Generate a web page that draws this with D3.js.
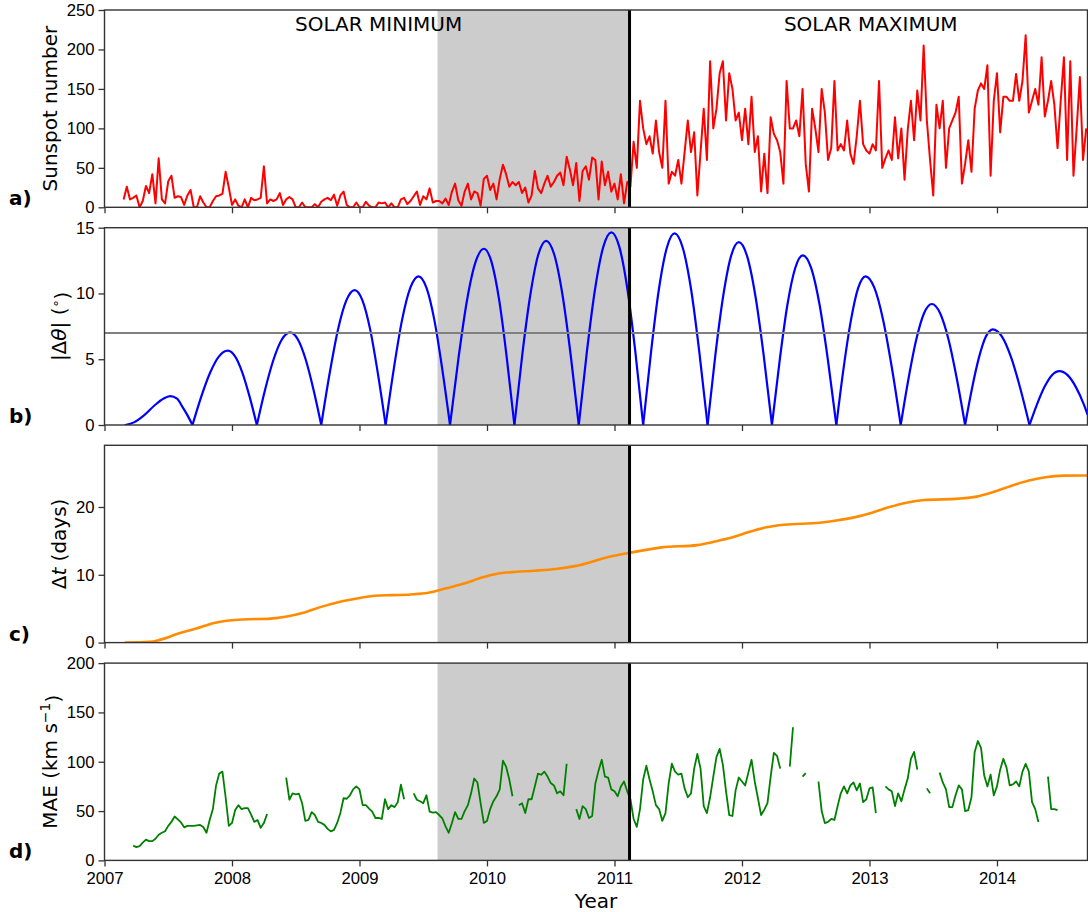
<!DOCTYPE html>
<html>
<head>
<meta charset="utf-8">
<title>Sunspots, latitude offset, lag and MAE</title>
<script src="https://cdn.jsdelivr.net/npm/d3@7"></script>
<style>
  body { margin: 0; background: #fff; }
  svg { font-family: "DejaVu Sans", sans-serif; }
  .axis text { font-size: 16.7px; fill: #000; }
  .axis line { stroke: #333; stroke-width: 1.3; }
</style>
</head>
<body>
<div id="chart"></div>
<script>
// ---- data ----
const yearTicks = [2007, 2008, 2009, 2010, 2011, 2012, 2013, 2014];
const ssnTicks = [0, 50, 100, 150, 200, 250];
const thetaTicks = [0, 5, 10, 15];
const dtTicks = [0, 10, 20];
const maeTicks = [0, 50, 100, 150, 200];

// shaded interval and the split between minimum and maximum
const shadeYears = [2009.612, 2011.118];
const splitYear = 2011.118;
const thetaRef = 7;

// sunspot number, one value every 0.025 yr starting 2007.15
const ssnStart = 2007.15, ssnStep = 0.025;
const ssnValues = [
  10,26,10,12,15,0,8,27,18,42, 5,62,10,5,33,40,12,14,13,3,
  15,22,0,0,14,6,0,0,8,14, 15,17,45,25,3,10,2,0,10,0,
  12,9,10,12,52,5,10,8,10,18, 3,10,13,10,0,0,6,0,0,0,
  4,0,7,10,12,9,16,2,15,20, 3,0,0,6,0,0,7,2,0,0,
  6,5,6,0,5,0,0,10,12,4, 8,14,20,3,14,10,24,6,8,8,
  5,11,3,20,30,9,2,20,30,10, 20,18,2,36,40,22,30,10,36,54,
  42,26,32,28,32,18,25,6,15,46, 24,18,30,40,26,32,40,44,28,64,
  48,28,56,8,46,52,35,63,60,10, 58,28,45,20,30,10,42,5,32,26,
  83,50,135,100,80,90,68,110,70,50, 135,30,45,40,60,30,70,110,70,95,
  15,70,125,60,185,100,125,170,185,110, 170,150,110,120,85,125,80,140,70,90,
  20,68,18,114,93,85,70,30,160,100, 100,110,90,150,55,20,125,100,70,150,
  120,60,75,160,72,80,72,110,68,55, 90,135,80,72,68,80,72,160,50,62,
  72,60,114,62,100,35,98,135,85,148, 110,205,110,60,15,130,100,135,50,100,
  110,120,140,30,55,85,45,125,148,157, 150,180,40,135,170,95,140,140,135,135,
  169,135,160,218,120,135,150,130,190,115, 135,160,130,75,135,190,60,185,40,100,
  165,60,100
];

// |delta theta| in degrees: [year, value]
const thetaPoints = [
  [2007.164,0],[2007.231,0.2],[2007.312,0.75],[2007.394,1.5],[2007.461,2.0],[2007.515,2.2],[2007.569,2.0],[2007.61,1.4],[2007.65,0.75],[2007.69,0],
  [2007.759,2.16],[2007.829,3.99],[2007.898,5.22],[2007.967,5.65],[2008.024,5.22],[2008.081,3.99],[2008.138,2.16],[2008.195,0],
  [2008.26,2.7],[2008.326,4.98],[2008.391,6.5],[2008.456,7.04],[2008.517,6.5],[2008.578,4.98],[2008.639,2.7],[2008.70,0],
  [2008.766,3.93],[2008.831,7.25],[2008.897,9.48],[2008.962,10.26],[2009.023,9.48],[2009.084,7.25],[2009.144,3.93],[2009.205,0],
  [2009.27,4.33],[2009.334,7.99],[2009.399,10.44],[2009.463,11.3],[2009.525,10.44],[2009.587,7.99],[2009.648,4.33],[2009.71,0],
  [2009.777,5.13],[2009.843,9.47],[2009.91,12.38],[2009.976,13.4],[2010.036,12.38],[2010.096,9.47],[2010.155,5.13],[2010.215,0],
  [2010.277,5.36],[2010.34,9.9],[2010.402,12.94],[2010.464,14.0],[2010.528,12.94],[2010.592,9.9],[2010.656,5.36],[2010.72,0],
  [2010.784,5.61],[2010.848,10.36],[2010.912,13.54],[2010.976,14.65],[2011.038,13.54],[2011.101,10.36],[2011.163,5.61],[2011.225,0],
  [2011.287,5.58],[2011.348,10.3],[2011.41,13.46],[2011.471,14.57],[2011.536,13.46],[2011.601,10.3],[2011.665,5.58],[2011.73,0],
  [2011.791,5.32],[2011.853,9.83],[2011.914,12.84],[2011.975,13.9],[2012.04,12.84],[2012.105,9.83],[2012.17,5.32],[2012.235,0],
  [2012.296,4.94],[2012.356,9.12],[2012.417,11.92],[2012.477,12.9],[2012.543,11.92],[2012.609,9.12],[2012.674,4.94],[2012.74,0],
  [2012.797,4.33],[2012.855,7.99],[2012.912,10.44],[2012.969,11.3],[2013.038,10.44],[2013.107,7.99],[2013.176,4.33],[2013.245,0],
  [2013.306,3.52],[2013.367,6.5],[2013.428,8.5],[2013.489,9.2],[2013.554,8.5],[2013.62,6.5],[2013.685,3.52],[2013.75,0],
  [2013.804,2.78],[2013.859,5.14],[2013.913,6.72],[2013.967,7.27],[2014.039,6.72],[2014.111,5.14],[2014.183,2.78],[2014.255,0],
  [2014.314,1.57],[2014.373,2.9],[2014.431,3.79],[2014.49,4.1],[2014.554,3.79],[2014.618,2.9],[2014.681,1.57],[2014.71,0.8]
];

// delta t in days: [year, value]
const dtPoints = [
  [2007.159,0],[2007.355,0.1],[2007.44,0.44],[2007.58,1.33],[2007.72,2.07],[2007.86,2.9],[2008.0,3.3],
  [2008.14,3.45],[2008.28,3.5],[2008.42,3.8],[2008.56,4.4],[2008.70,5.27],[2008.84,6.0],[2008.98,6.5],
  [2009.12,6.9],[2009.26,7.0],[2009.40,7.1],[2009.54,7.34],[2009.68,8.0],[2009.82,8.7],[2009.96,9.6],
  [2010.09,10.2],[2010.23,10.44],[2010.37,10.6],[2010.54,10.85],[2010.69,11.28],[2010.96,12.66],[2011.12,13.25],
  [2011.37,14.04],[2011.65,14.38],[2011.78,14.88],[2011.92,15.5],[2012.06,16.35],[2012.19,17.0],[2012.33,17.39],
  [2012.61,17.68],[2012.74,18.0],[2012.88,18.47],[2013.02,19.16],[2013.15,19.95],[2013.29,20.64],[2013.43,21.03],
  [2013.70,21.23],[2013.84,21.53],[2013.97,22.2],[2014.11,23.1],[2014.25,23.9],[2014.38,24.38],[2014.52,24.63],[2014.71,24.65]
];

// MAE in km/s, one value every 0.025 yr starting 2007.225 (null = no data)
const maeStart = 2007.225, maeStep = 0.025;
const maeValues = [
  15,13.5,14.5,18,21,19.5,19.5,22,26,28, 29.5,35,39,44.5,41.5,38.5,33.5,35,35,35,
  35.5,36,33.8,28,41,52,76,88,90,64, 35,38,51,56,52,53,53,46.5,39,41,
  33,37.8,47,null,null,null,null,null,84,61.5, 68,67,67.6,58,40,41,49,46,39,38,
  36,32,29.4,31,38,48,63,62.5,66,72, 75,72,56,56,52.5,49.5,43,43,42,62,
  52,56,54,59,76.7,62,null,null,68,61.5, 60,58,66,49.5,48.5,49,46,42.5,34.5,28,
  38,49,42,42,50,56,68,83,79,58, 38,40,52,60,65,72,101,95,82,65,
  null,56,58,48,62,62,75,88,86.8,90, 85,78.4,76,68,70,66,98,null,null,52,
  42,55,52,43,45,78,91,102,85,84, 72,70,65,75,80,70,62,42,34,52,
  82,96,82,70,56,52,40,48,78,98, 90,87,88,73,64,68,93,108,93,55,
  48,64,85,105,113,97,70,46,45,71, 84,80,76,89,102,80,63,46,51.4,58,
  85,109,106,93,null,null,95,135,null,null, 85,88.5,null,null,null,80,50,37.8,39,42,
  41,55,68,75,68,76,79,71,78,59, 62,73,74,48,null,null,75,72,70,55,
  68,60,72,83,103,110,92,null,null,73, 68,null,null,89,79,72,54,54,66,76,
  72,50,51,64,110,121,114,86,75,87, 66,75,92,103,94,76,77,80,75,90,
  98,90,59,52,39,null,null,85,52,52, 51
];

// annotations in panel a: [year, sunspot value, text]
const phaseLabels = [[2009.15, 224, "SOLAR MINIMUM"], [2013.01, 224, "SOLAR MAXIMUM"]];

// ---- layout ----
const W = 1088, H = 912;
const left = 104.5, right = 1087.5;
const panelH = 197.3;

const svg = d3.select("#chart").append("svg")
    .attr("width", W)
    .attr("height", H);

const x = d3.scaleLinear().domain([2007, 2014.71]).range([left, right]);

const panels = [
  { id: "a", top: 10,    domain: [0, 250],  ticks: ssnTicks },
  { id: "b", top: 227.7, domain: [0, 15],   ticks: thetaTicks },
  { id: "c", top: 445.3, domain: [0, 29.1], ticks: dtTicks },
  { id: "d", top: 663.1, domain: [0, 200],  ticks: maeTicks }
];

panels.forEach((p, i) => {
  p.y = d3.scaleLinear().domain(p.domain).range([p.top + panelH, p.top]);
  p.g = svg.append("g");

  // clip for data
  svg.append("clipPath").attr("id", "clip-" + p.id)
    .append("rect")
    .attr("x", left).attr("y", p.top)
    .attr("width", right - left).attr("height", panelH);

  // shaded interval
  p.g.append("rect")
      .attr("x", x(shadeYears[0]))
      .attr("y", p.top)
      .attr("width", x(shadeYears[1]) - x(shadeYears[0]))
      .attr("height", panelH)
      .attr("fill", "#cccccc");

  p.plot = p.g.append("g").attr("clip-path", `url(#clip-${p.id})`);
});

const [pa, pb, pc, pd] = panels;

// a) sunspot number
const ssn = ssnValues.map((v, i) => ({ year: ssnStart + i * ssnStep, value: v }));
pa.plot.append("path")
    .datum(ssn)
    .attr("fill", "none")
    .attr("stroke", "#ff0000")
    .attr("stroke-width", 2)
    .attr("stroke-linejoin", "round")
    .attr("d", d3.line().x(d => x(d.year)).y(d => pa.y(d.value)));

pa.g.selectAll(".phase")
  .data(phaseLabels)
  .enter().append("text")
    .attr("x", d => x(d[0]))
    .attr("y", d => pa.y(d[1]))
    .attr("text-anchor", "middle")
    .style("font-size", "20px")
    .text(d => d[2]);

// b) |delta theta|, one path per arc so the zeros stay sharp
const thetaArcs = [];
let arc = [];
thetaPoints.forEach((pt, i) => {
  arc.push(pt);
  if (pt[1] === 0 && i > 0) { thetaArcs.push(arc); arc = [pt]; }
});
if (arc.length > 1) thetaArcs.push(arc);

const thetaLine = d3.line().curve(d3.curveMonotoneX)
    .x(d => x(d[0])).y(d => pb.y(d[1]));

pb.plot.selectAll(".arc")
  .data(thetaArcs)
  .enter().append("path")
    .attr("fill", "none")
    .attr("stroke", "#0000ff")
    .attr("stroke-width", 2.2)
    .attr("stroke-linecap", "round")
    .attr("d", thetaLine);

pb.plot.append("line")
    .attr("x1", left).attr("x2", right)
    .attr("y1", pb.y(thetaRef)).attr("y2", pb.y(thetaRef))
    .attr("stroke", "#808080")
    .attr("stroke-width", 2);

// c) delta t
pc.plot.append("path")
    .datum(dtPoints)
    .attr("fill", "none")
    .attr("stroke", "#ff8c00")
    .attr("stroke-width", 2.6)
    .attr("d", d3.line().curve(d3.curveMonotoneX).x(d => x(d[0])).y(d => pc.y(d[1])));

// d) MAE
const mae = maeValues.map((v, i) => ({ year: maeStart + i * maeStep, value: v }));
pd.plot.append("path")
    .datum(mae)
    .attr("fill", "none")
    .attr("stroke", "#008000")
    .attr("stroke-width", 1.8)
    .attr("stroke-linejoin", "round")
    .attr("d", d3.line().defined(d => d.value != null).x(d => x(d.year)).y(d => pd.y(d.value)));

// split line, frame and axes for every panel
panels.forEach((p, i) => {
  p.g.append("line")
      .attr("x1", x(splitYear)).attr("x2", x(splitYear))
      .attr("y1", p.top).attr("y2", p.top + panelH)
      .attr("stroke", "#000")
      .attr("stroke-width", 3);

  const yAxis = p.g.append("g")
      .attr("class", "axis")
      .attr("transform", `translate(${left},0)`)
      .call(d3.axisLeft(p.y).tickValues(p.ticks).tickSize(6).tickPadding(4).tickFormat(d3.format("d")));
  yAxis.select(".domain").remove();

  const xAxis = p.g.append("g")
      .attr("class", "axis")
      .attr("transform", `translate(0,${p.top + panelH})`)
      .call(d3.axisBottom(x).tickValues(yearTicks).tickSize(6).tickPadding(6)
        .tickFormat(i === 3 ? d3.format("d") : ""));
  xAxis.select(".domain").remove();

  p.g.append("rect")
      .attr("x", left).attr("y", p.top)
      .attr("width", right - left).attr("height", panelH)
      .attr("fill", "none")
      .attr("stroke", "#333")
      .attr("stroke-width", 1.4);

  // ylabel sits left of the widest tick label
  let minX = Infinity;
  yAxis.selectAll("text").each(function() { minX = Math.min(minX, this.getBBox().x + left); });
  p.labelX = minX - 10;

  p.g.append("text")
      .attr("x", 9)
      .attr("y", p.top + panelH - 2)
      .style("font-size", "20px")
      .style("font-weight", "bold")
      .text(p.id + ")");
});

function yLabel(p) {
  return p.g.append("text")
      .attr("transform", `translate(${p.labelX},${p.top + panelH / 2}) rotate(-90)`)
      .attr("text-anchor", "middle")
      .style("font-size", "20px");
}

yLabel(pa).text("Sunspot number");

const lb = yLabel(pb);
lb.append("tspan").text("|Δ");
lb.append("tspan").style("font-style", "italic").text("θ");
lb.append("tspan").text("| (");
lb.append("tspan").attr("dy", "-0.45em").style("font-size", "13px").text("∘");
lb.append("tspan").attr("dy", "0.45em").text(")");

const lc = yLabel(pc);
lc.append("tspan").text("Δ");
lc.append("tspan").style("font-style", "italic").text("t");
lc.append("tspan").text(" (days)");

const ld = yLabel(pd);
ld.append("tspan").text("MAE (km s");
ld.append("tspan").attr("dy", "-0.5em").style("font-size", "14px").text("−1");
ld.append("tspan").attr("dy", "0.5em").text(")");

svg.append("text")
    .attr("x", (left + right) / 2)
    .attr("y", 908)
    .attr("text-anchor", "middle")
    .style("font-size", "20px")
    .text("Year");
</script>
</body>
</html>
